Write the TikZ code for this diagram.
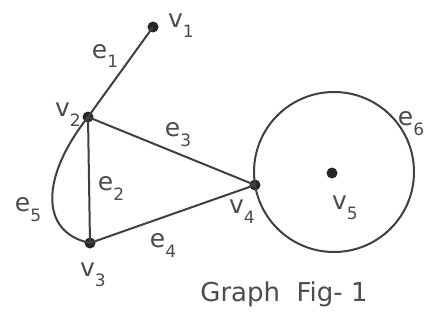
\documentclass[tikz,border=0pt]{standalone}
\usepackage{fontspec}
\setmainfont{DejaVu Sans}
\newcommand\vlab[2]{#1\raisebox{-0.4em}{\fontsize{17}{17}\selectfont #2}}
\begin{document}
\begin{tikzpicture}[x=1pt,y=-1pt,
  vert/.style={circle,fill=black!85,inner sep=0pt,minimum size=11pt},
  edge/.style={draw=black!75,line width=2pt},
  lbl/.style={text=black!70,font=\fontsize{25}{25}\selectfont,inner sep=0pt}]
\useasboundingbox (0,0) rectangle (427,326);
\fill[white] (0,0) rectangle (427,326);
\node[vert] (v1) at (153,27) {};
\node[vert] (v2) at (88,117) {};
\node[vert] (v3) at (90,243) {};
\node[vert] (v4) at (255,185) {};
\node[vert] (v5) at (332,173) {};
\coordinate (c5) at (334,172);
\draw[edge] (v1.center) -- (v2.center);
\draw[edge] (v2.center) -- (v3.center);
\draw[edge] (v2.center) -- (v4.center);
\draw[edge] (v3.center) -- (v4.center);
\draw[edge] (v2.center) .. controls (42,175) and (38,232) .. (v3.center);
\draw[edge] (c5) circle[radius=80];
\node[lbl] (lv1) at (181,26) {\vlab{v}{1}};
\node[lbl] (lv2) at (68,115) {\vlab{v}{2}};
\node[lbl] (lv3) at (93,275) {\vlab{v}{3}};
\node[lbl] (lv4) at (242,212) {\vlab{v}{4}};
\node[lbl] (lv5) at (345,208) {\vlab{v}{5}};
\node[lbl] (le1) at (105,56) {\vlab{e}{1}};
\node[lbl] (le2) at (111,188) {\vlab{e}{2}};
\node[lbl] (le3) at (178,135) {\vlab{e}{3}};
\node[lbl] (le4) at (163,245) {\vlab{e}{4}};
\node[lbl] (le5) at (28,210) {\vlab{e}{5}};
\node[lbl] (le6) at (411,124) {\vlab{e}{6}};
\node[lbl,font=\fontsize{26}{26}\selectfont] (cap) at (284,294) {Graph\ \ Fig- 1};
\end{tikzpicture}
\end{document}
